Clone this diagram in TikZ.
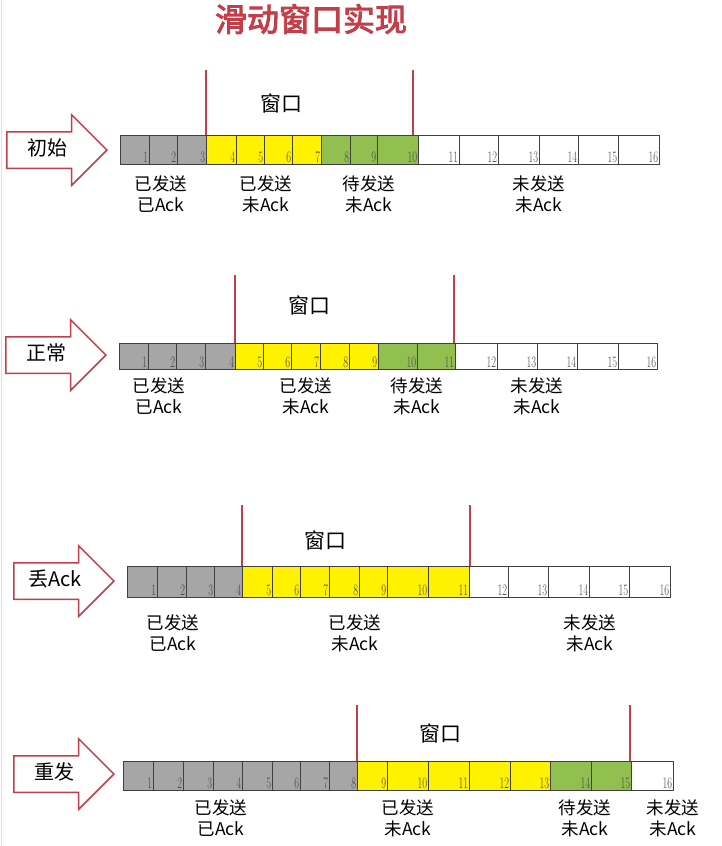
\documentclass[tikz,border=0pt]{standalone}
\usepackage{fontspec}
\usepackage{graphicx}
\usetikzlibrary{shapes.arrows,positioning}
\newfontfamily\cjk{Noto Sans CJK SC}
\newfontfamily\cjktitle{Noto Sans CJK SC}[FakeBold=3]
\definecolor{sentgray}{RGB}{166,166,166}
\definecolor{winyellow}{RGB}{255,242,0}
\definecolor{readygreen}{RGB}{146,192,80}
\definecolor{markred}{RGB}{196,62,74}
\colorlet{cellc0}{sentgray}
\colorlet{cellc1}{winyellow}
\colorlet{cellc2}{readygreen}
\colorlet{cellc3}{white}
\tikzstyle{cell} = [draw=black!75, line width=0.9pt, inner sep=0pt, anchor=north west]
\tikzstyle{num} = [inner sep=0pt, anchor=base east, text=black!72, font=\fontsize{16}{16}\selectfont]
\tikzstyle{state} = [single arrow, draw=markred, line width=1.5pt, fill=white, single arrow head extend=17pt, minimum height=100pt, inner xsep=4pt, inner ysep=8pt, text height=15pt, text depth=4pt, anchor=tip, font=\cjk\fontsize{20}{20}\selectfont]
\tikzstyle{win} = [draw=markred, line width=2.6pt]
\tikzstyle{wintext} = [inner sep=0pt, font=\cjk\fontsize{21}{21}\selectfont]
\tikzstyle{info} = [align=center, inner sep=0pt, font=\cjk\fontsize{17.5}{21}\selectfont]

\begin{document}
\begin{tikzpicture}[x=1pt, y=-1pt]
	\useasboundingbox (0,0) rectangle (722,846);
	\draw [black!12, line width=1pt] (1,0) -- (1,846);
	\node [font=\cjktitle\fontsize{32}{32}\selectfont, text=markred] (title) at (311,19) {滑动窗口实现};
	
	% 初始
	\node [state] (r1arrow) at (108,150) {初始};
	\foreach \x [count=\i, remember=\x as \lx (initially 120)] in {149,177,206,236,264,292,321,350,377,418,459,498,539,578,618,659} {
		\pgfmathtruncatemacro\colidx{(\i>3)+(\i>7)+(\i>10)}
		\node [cell, fill=cellc\colidx, minimum width={(\x-\lx)*1pt}, minimum height=29pt] (r1c\i) at (\lx,135) {};
		\node [num] (r1n\i) at ([xshift=-1.5pt, yshift=2pt]r1c\i.south east) {\scalebox{0.65}[1]{\i}};
	}
	\coordinate (r1wa) at (206,70);
	\coordinate (r1wb) at (413,70);
	\draw [win] (r1wa) -- (r1wa |- r1c1.north);
	\draw [win] (r1wb) -- (r1wb |- r1c1.north);
	\node [wintext] (r1win) at (281,103) {窗口};
	\node [info] (r1l1) at (161,194) {已发送\\已Ack};
	\node [info] (r1l2) at (266,194) {已发送\\未Ack};
	\node [info] (r1l3) at (369,194) {待发送\\未Ack};
	\node [info] (r1l4) at (539,194) {未发送\\未Ack};
	
	% 正常
	\node [state] (r2arrow) at (107,355) {正常};
	\foreach \x [count=\i, remember=\x as \lx (initially 119)] in {148,176,205,235,263,291,320,349,378,417,455,497,537,577,618,657} {
		\pgfmathtruncatemacro\colidx{(\i>4)+(\i>9)+(\i>11)}
		\node [cell, fill=cellc\colidx, minimum width={(\x-\lx)*1pt}, minimum height=26pt] (r2c\i) at (\lx,343) {};
		\node [num] (r2n\i) at ([xshift=-1.5pt, yshift=2pt]r2c\i.south east) {\scalebox{0.65}[1]{\i}};
	}
	\coordinate (r2wa) at (235,275);
	\coordinate (r2wb) at (454,275);
	\draw [win] (r2wa) -- (r2wa |- r2c1.north);
	\draw [win] (r2wb) -- (r2wb |- r2c1.north);
	\node [wintext] (r2win) at (309,305) {窗口};
	\node [info] (r2l1) at (159,396) {已发送\\已Ack};
	\node [info] (r2l2) at (306,396) {已发送\\未Ack};
	\node [info] (r2l3) at (417,396) {待发送\\未Ack};
	\node [info] (r2l4) at (537,396) {未发送\\未Ack};
	
	% 丢Ack
	\node [state] (r3arrow) at (115,581) {丢Ack};
	\foreach \x [count=\i, remember=\x as \lx (initially 127)] in {157,186,214,242,272,300,329,359,387,428,469,508,548,589,629,670} {
		\pgfmathtruncatemacro\colidx{(\i>4)+(\i>11)+(\i>11)}
		\node [cell, fill=cellc\colidx, minimum width={(\x-\lx)*1pt}, minimum height=31pt] (r3c\i) at (\lx,566) {};
		\node [num] (r3n\i) at ([xshift=-1.5pt, yshift=2pt]r3c\i.south east) {\scalebox{0.65}[1]{\i}};
	}
	\coordinate (r3wa) at (242,505);
	\coordinate (r3wb) at (470,505);
	\draw [win] (r3wa) -- (r3wa |- r3c1.north);
	\draw [win] (r3wb) -- (r3wb |- r3c1.north);
	\node [wintext] (r3win) at (325,540) {窗口};
	\node [info] (r3l1) at (173,633) {已发送\\已Ack};
	\node [info] (r3l2) at (355,633) {已发送\\未Ack};
	\node [info] (r3l3) at (590,633) {未发送\\未Ack};
	
	% 重发
	\node [state] (r4arrow) at (115,774) {重发};
	\foreach \x [count=\i, remember=\x as \lx (initially 123)] in {153,183,213,242,272,300,329,357,387,428,469,510,550,591,631,673} {
		\pgfmathtruncatemacro\colidx{(\i>8)+(\i>13)+(\i>15)}
		\node [cell, fill=cellc\colidx, minimum width={(\x-\lx)*1pt}, minimum height=29pt] (r4c\i) at (\lx,761) {};
		\node [num] (r4n\i) at ([xshift=-1.5pt, yshift=2pt]r4c\i.south east) {\scalebox{0.65}[1]{\i}};
	}
	\coordinate (r4wa) at (357,705);
	\coordinate (r4wb) at (630,705);
	\draw [win] (r4wa) -- (r4wa |- r4c1.north);
	\draw [win] (r4wb) -- (r4wb |- r4c1.north);
	\node [wintext] (r4win) at (440,733) {窗口};
	\node [info] (r4l1) at (221,818) {已发送\\已Ack};
	\node [info] (r4l2) at (408,818) {已发送\\未Ack};
	\node [info] (r4l3) at (585,818) {待发送\\未Ack};
	\node [info] (r4l4) at (673,818) {未发送\\未Ack};
\end{tikzpicture}
\end{document}
